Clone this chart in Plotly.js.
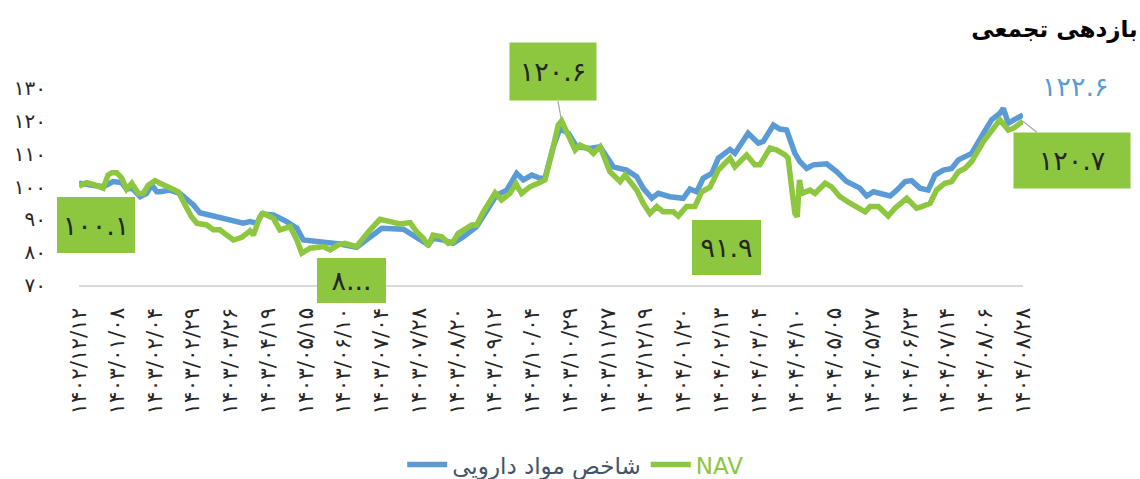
<!DOCTYPE html>
<html>
<head>
<meta charset="utf-8">
<script src="https://cdn.plot.ly/plotly-3.0.1.min.js"></script>
<style>
  html, body { margin: 0; padding: 0; background: #ffffff; }
  #chart { width: 1140px; height: 479px; }
</style>
</head>
<body>
<div id="chart"></div>
<script>
// X tick labels (Jalali dates, Persian digits)
const dateLabels = [
  '۱۴۰۲/۱۲/۱۲','۱۴۰۳/۰۱/۰۸','۱۴۰۳/۰۲/۰۴','۱۴۰۳/۰۲/۲۹','۱۴۰۳/۰۳/۲۶','۱۴۰۳/۰۴/۱۹',
  '۱۴۰۳/۰۵/۱۵','۱۴۰۳/۰۶/۱۰','۱۴۰۳/۰۷/۰۴','۱۴۰۳/۰۷/۲۸','۱۴۰۳/۰۸/۲۰','۱۴۰۳/۰۹/۱۲',
  '۱۴۰۳/۱۰/۰۴','۱۴۰۳/۱۰/۲۹','۱۴۰۳/۱۱/۲۷','۱۴۰۳/۱۲/۱۹','۱۴۰۴/۰۱/۲۰','۱۴۰۴/۰۲/۱۳',
  '۱۴۰۴/۰۳/۰۴','۱۴۰۴/۰۴/۱۰','۱۴۰۴/۰۵/۰۵','۱۴۰۴/۰۵/۲۷','۱۴۰۴/۰۶/۲۳','۱۴۰۴/۰۷/۱۴',
  '۱۴۰۴/۰۸/۰۶','۱۴۰۴/۰۸/۲۸'
];
const yTickVals = [70, 80, 90, 100, 110, 120, 130];
const yTickText = ['۷۰','۸۰','۹۰','۱۰۰','۱۱۰','۱۲۰','۱۳۰'];

// Series names
const indexName = 'شاخص مواد دارویی';
const navName = 'NAV';

// NAV series: position along the date axis (in tick-label units) and value
const navX = [0.00,0.20,0.42,0.64,0.77,0.87,1.00,1.13,1.26,1.40,1.57,1.70,1.84,2.01,2.15,2.41,2.63,2.81,2.98,3.12,
  3.38,3.56,3.73,3.91,4.09,4.31,4.53,4.62,4.79,4.88,5.15,5.32,5.59,5.77,5.90,6.12,6.47,6.65,6.87,7.04,
  7.35,7.71,7.97,8.24,8.50,8.77,8.94,9.12,9.25,9.38,9.61,9.78,9.91,10.04,10.22,10.40,10.53,10.71,11.02,11.19,
  11.41,11.57,11.72,11.94,12.16,12.34,12.56,12.69,12.78,12.92,13.14,13.27,13.53,13.62,13.80,14.06,14.33,14.46,14.64,14.77,
  14.94,15.12,15.30,15.47,15.74,15.87,16.09,16.31,16.49,16.71,16.93,17.24,17.37,17.68,17.90,18.03,18.30,18.48,18.70,18.78,
  18.87,18.96,19.02,19.08,19.14,19.36,19.49,19.76,19.93,20.15,20.42,20.68,20.82,20.95,21.17,21.43,21.61,21.92,22.18,22.32,
  22.54,22.71,22.93,23.11,23.29,23.46,23.64,23.95,24.17,24.39,24.61,24.74,25.00];
const navY = [100.1,101.2,100.5,99.5,103.5,104.2,104.2,102.6,99.2,101.0,97.9,97.9,100.5,101.8,101.0,99.5,98.4,94.4,90.8,88.8,
  88.3,86.8,86.8,85.2,83.7,84.5,86.5,85.2,90.8,91.8,90.3,86.8,87.8,83.7,79.7,81.2,81.7,80.7,82.2,82.7,
  81.7,86.8,90.0,89.3,88.6,89.0,86.2,84.2,81.9,85.2,84.7,82.7,83.2,85.7,86.8,88.3,88.3,92.3,98.1,95.9,
  97.9,100.8,97.9,99.9,101.0,102.0,112.1,118.7,120.0,116.2,111.1,112.6,111.1,110.1,112.1,104.5,101.5,103.5,101.0,98.9,
  94.9,91.8,93.9,92.3,92.3,91.0,93.9,93.9,98.4,99.8,105.0,108.6,106.0,109.6,106.6,106.6,111.7,111.1,109.6,108.6,
  99.9,91.8,90.8,102.0,97.9,98.9,97.9,101.0,99.9,96.9,94.9,93.4,92.3,93.9,93.9,91.0,93.4,96.4,93.4,93.9,
  94.9,98.9,101.0,101.5,104.5,105.5,107.6,113.7,116.7,120.3,117.2,117.7,119.9];

// Drug-materials index series
const idxX = [0.00,0.64,0.90,1.13,1.26,1.40,1.62,1.79,1.93,2.06,2.15,2.41,2.67,3.03,3.20,3.47,3.73,4.09,4.35,4.53,
  4.71,4.84,5.15,5.50,5.77,5.94,6.47,6.91,7.35,7.79,8.02,8.59,8.85,9.25,9.38,9.65,9.91,10.18,10.53,10.80,
  11.06,11.33,11.59,11.77,11.99,12.21,12.34,12.56,12.74,12.96,13.18,13.53,13.80,14.15,14.50,14.77,14.94,15.17,15.34,15.65,
  16.00,16.18,16.36,16.53,16.76,16.93,17.24,17.37,17.72,17.99,18.12,18.39,18.56,18.74,18.96,19.09,19.27,19.45,19.80,20.07,
  20.33,20.68,20.86,21.04,21.48,21.66,21.88,22.05,22.27,22.49,22.67,22.89,23.11,23.29,23.51,23.64,23.95,24.17,24.39,24.48,
  24.61,24.74,24.87,25.00];
const idxY = [101.0,99.9,101.5,101.2,99.2,99.5,96.9,97.9,100.5,98.4,98.4,98.9,97.9,94.4,92.0,91.3,90.3,89.3,88.8,89.3,
  88.8,91.6,91.3,89.3,87.3,83.7,83.2,82.5,81.5,85.2,87.3,87.0,85.2,82.2,84.2,83.7,82.7,84.7,87.8,92.8,
  97.4,98.9,104.0,102.0,103.5,102.5,102.5,112.1,117.7,116.2,112.1,111.6,112.1,106.0,105.0,103.0,99.5,96.4,97.9,96.9,
  96.4,99.2,98.4,102.5,104.0,108.6,111.3,110.1,116.2,113.2,113.7,118.7,117.5,117.2,110.1,107.6,105.5,106.6,106.9,104.5,
  101.5,99.5,97.1,98.4,97.1,98.9,101.5,101.8,99.5,98.9,103.5,105.0,105.5,108.1,109.6,110.1,116.2,120.3,122.3,123.8,
  119.3,120.3,121.3,121.8];

// Data-label texts
const labelStart = '۱۰۰.۱';
const labelLow1 = '۸...';
const labelPeak = '۱۲۰.۶';
const labelLow2 = '۹۱.۹';
const labelNavEnd = '۱۲۰.۷';
const labelIdxEnd = '۱۲۲.۶';
const titleText = 'بازدهی تجمعی';

const BLUE = '#5b9bd5';
const GREEN = '#8dc63f';
const TXT = '#262626';
const FONT = 'DejaVu Sans, Noto Sans, sans-serif';

function argExtreme(xs, ys, lo, hi, wantMax) {
  let best = -1;
  for (let i = 0; i < ys.length; i++) {
    if (xs[i] < lo || xs[i] > hi) continue;
    if (best < 0 || (wantMax ? ys[i] > ys[best] : ys[i] < ys[best])) best = i;
  }
  return best;
}
const iPeak = argExtreme(navX, navY, 10, 15, true);
const iLow1 = argExtreme(navX, navY, 0, 10, false);
const iLow2 = argExtreme(navX, navY, 14, 17, false);
const iNavEnd = navX.length - 1;
const iIdxEnd = idxX.length - 1;

const traces = [
  {
    x: idxX, y: idxY, type: 'scatter', mode: 'lines',
    name: '<span style="color:#44546a">' + indexName + '</span>',
    line: { color: BLUE, width: 5.5 }, hoverinfo: 'skip'
  },
  {
    x: navX, y: navY, type: 'scatter', mode: 'lines',
    name: '<span style="color:' + GREEN + '">' + navName + '</span>',
    line: { color: GREEN, width: 5.5 }, hoverinfo: 'skip'
  }
];

function box(text, x, y, w, h, xs, ys) {
  return {
    x: x, y: y, xref: 'x', yref: 'y', text: text, showarrow: false,
    xshift: xs, yshift: ys, width: w, height: h, bgcolor: GREEN,
    borderpad: 0, borderwidth: 0, align: 'center', valign: 'middle',
    font: { family: FONT, size: 27, color: TXT }
  };
}

const annotations = [
  box(labelStart, navX[0], navY[0], 78, 56, 17, -39),
  box(labelLow1, navX[iLow1], navY[iLow1], 69, 45, 50, -27),
  box(labelLow2, navX[iLow2], navY[iLow2], 69, 55, 48, -31),
  {
    x: navX[iPeak], y: navY[iPeak], xref: 'x', yref: 'y', text: labelPeak,
    showarrow: true, arrowhead: 0, arrowwidth: 1.2, arrowcolor: '#a6a6a6',
    ax: -9, ay: -49, width: 86, height: 57, bgcolor: GREEN, borderpad: 0,
    font: { family: FONT, size: 27, color: TXT }
  },
  {
    x: navX[iNavEnd], y: navY[iNavEnd], xref: 'x', yref: 'y', text: labelNavEnd,
    showarrow: true, arrowhead: 0, arrowwidth: 1.2, arrowcolor: '#a6a6a6',
    ax: 49, ay: 39, width: 116, height: 55, bgcolor: GREEN, borderpad: 0,
    font: { family: FONT, size: 27, color: TXT }
  },
  {
    x: idxX[iIdxEnd], y: idxY[iIdxEnd], xref: 'x', yref: 'y', text: labelIdxEnd,
    showarrow: false, xshift: 52, yshift: 28,
    font: { family: FONT, size: 27, color: BLUE }
  }
];

const layout = {
  width: 1140, height: 479,
  paper_bgcolor: '#ffffff', plot_bgcolor: '#ffffff',
  font: { family: FONT, color: TXT },
  margin: { l: 79, r: 117, t: 88, b: 194, autoexpand: false },
  title: {
    text: titleText, xref: 'container', yref: 'container',
    x: 0.998, xanchor: 'right', y: 0.94, yanchor: 'middle',
    font: { family: FONT, size: 23, color: '#000000', weight: 700 }
  },
  showlegend: true,
  legend: {
    orientation: 'h', xref: 'container', yref: 'container',
    x: 0.505, xanchor: 'center', y: 0.03, yanchor: 'middle',
    font: { family: FONT, size: 23, color: '#44546a' },
    bgcolor: 'rgba(0,0,0,0)', itemwidth: 40, traceorder: 'normal'
  },
  xaxis: {
    range: [0, 25], showgrid: false, zeroline: false,
    showline: true, linecolor: '#d9d9d9', linewidth: 2,
    tickmode: 'array', tickvals: dateLabels.map((d, i) => i), ticktext: dateLabels,
    tickangle: -90, ticks: '', ticklabelstandoff: 12,
    tickfont: { family: FONT, size: 21.5, color: TXT }, automargin: false, fixedrange: true
  },
  yaxis: {
    range: [70, 130], showgrid: false, zeroline: false, showline: false,
    tickmode: 'array', tickvals: yTickVals, ticktext: yTickText,
    ticks: '', ticklabelstandoff: 32,
    tickfont: { family: FONT, size: 20, color: TXT }, automargin: false, fixedrange: true
  },
  annotations: annotations
};

Plotly.newPlot('chart', traces, layout, { staticPlot: true, displayModeBar: false });
</script>
</body>
</html>
